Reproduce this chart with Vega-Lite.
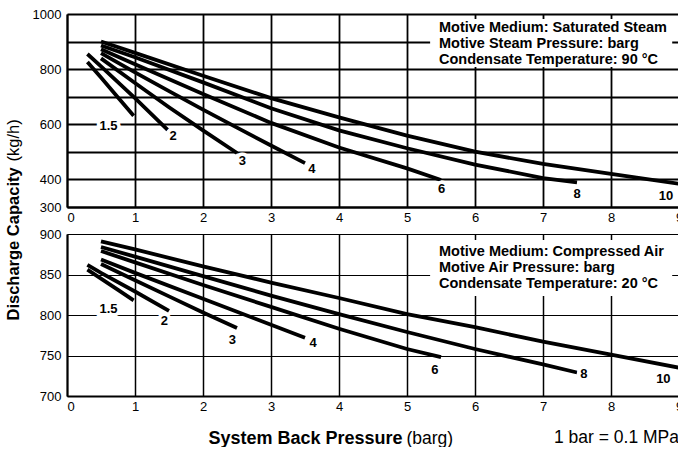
{
  "$schema": "https://vega.github.io/schema/vega-lite/v6.json",
  "background": "white",
  "padding": {"left": 5, "top": 8, "right": 0, "bottom": 0},
  "bounds": "flush",
  "spacing": 27,
  "config": {
    "font": "Liberation Sans",
    "view": {"stroke": null},
    "axis": {
      "labelFont": "Liberation Sans",
      "labelFontSize": 13,
      "labelColor": "black",
      "domainColor": "black",
      "domainWidth": 2,
      "gridColor": "black",
      "gridOpacity": 1,
      "ticks": false,
      "tickSize": 0,
      "titleColor": "black",
      "titleFont": "Liberation Sans"
    }
  },
  "title": {
    "text": "1 bar = 0.1 MPa",
    "orient": "bottom",
    "anchor": "end",
    "frame": "group",
    "font": "Liberation Sans",
    "fontSize": 17.5,
    "fontWeight": "normal",
    "color": "black",
    "baseline": "alphabetic",
    "offset": 0,
    "dy": -4
  },
  "datasets": {
    "curves": [
      {"p": "steam", "c": "1.5", "x": 0.3, "y": 826},
      {"p": "steam", "c": "1.5", "x": 0.5, "y": 770},
      {"p": "steam", "c": "1.5", "x": 0.75, "y": 697},
      {"p": "steam", "c": "1.5", "x": 0.98, "y": 631},
      {"p": "steam", "c": "2", "x": 0.3, "y": 855},
      {"p": "steam", "c": "2", "x": 0.5, "y": 810},
      {"p": "steam", "c": "2", "x": 1.0, "y": 695},
      {"p": "steam", "c": "2", "x": 1.48, "y": 580},
      {"p": "steam", "c": "3", "x": 0.5, "y": 839},
      {"p": "steam", "c": "3", "x": 1.0, "y": 750},
      {"p": "steam", "c": "3", "x": 1.5, "y": 662},
      {"p": "steam", "c": "3", "x": 2.0, "y": 578},
      {"p": "steam", "c": "3", "x": 2.5, "y": 496},
      {"p": "steam", "c": "4", "x": 0.5, "y": 858},
      {"p": "steam", "c": "4", "x": 1.0, "y": 788},
      {"p": "steam", "c": "4", "x": 1.5, "y": 720},
      {"p": "steam", "c": "4", "x": 2.0, "y": 653},
      {"p": "steam", "c": "4", "x": 2.5, "y": 588},
      {"p": "steam", "c": "4", "x": 3.0, "y": 523},
      {"p": "steam", "c": "4", "x": 3.5, "y": 459},
      {"p": "steam", "c": "6", "x": 0.5, "y": 872},
      {"p": "steam", "c": "6", "x": 1, "y": 818},
      {"p": "steam", "c": "6", "x": 2, "y": 710},
      {"p": "steam", "c": "6", "x": 3, "y": 605},
      {"p": "steam", "c": "6", "x": 4, "y": 516},
      {"p": "steam", "c": "6", "x": 5, "y": 440},
      {"p": "steam", "c": "6", "x": 5.5, "y": 398},
      {"p": "steam", "c": "8", "x": 0.5, "y": 886},
      {"p": "steam", "c": "8", "x": 1, "y": 843},
      {"p": "steam", "c": "8", "x": 2, "y": 752},
      {"p": "steam", "c": "8", "x": 3, "y": 658},
      {"p": "steam", "c": "8", "x": 4, "y": 578},
      {"p": "steam", "c": "8", "x": 5, "y": 513},
      {"p": "steam", "c": "8", "x": 6, "y": 454},
      {"p": "steam", "c": "8", "x": 7, "y": 405},
      {"p": "steam", "c": "8", "x": 7.5, "y": 389},
      {"p": "steam", "c": "10", "x": 0.5, "y": 900},
      {"p": "steam", "c": "10", "x": 1, "y": 859},
      {"p": "steam", "c": "10", "x": 2, "y": 776},
      {"p": "steam", "c": "10", "x": 3, "y": 695},
      {"p": "steam", "c": "10", "x": 4, "y": 625},
      {"p": "steam", "c": "10", "x": 5, "y": 559},
      {"p": "steam", "c": "10", "x": 6, "y": 501},
      {"p": "steam", "c": "10", "x": 7, "y": 456},
      {"p": "steam", "c": "10", "x": 8, "y": 420},
      {"p": "steam", "c": "10", "x": 9, "y": 384},
      {"p": "air", "c": "1.5", "x": 0.3, "y": 856},
      {"p": "air", "c": "1.5", "x": 0.5, "y": 845},
      {"p": "air", "c": "1.5", "x": 0.75, "y": 831},
      {"p": "air", "c": "1.5", "x": 0.98, "y": 818},
      {"p": "air", "c": "2", "x": 0.3, "y": 862},
      {"p": "air", "c": "2", "x": 0.5, "y": 852},
      {"p": "air", "c": "2", "x": 1.0, "y": 829},
      {"p": "air", "c": "2", "x": 1.5, "y": 805},
      {"p": "air", "c": "3", "x": 0.5, "y": 863},
      {"p": "air", "c": "3", "x": 1.0, "y": 843},
      {"p": "air", "c": "3", "x": 1.5, "y": 823},
      {"p": "air", "c": "3", "x": 2.0, "y": 803},
      {"p": "air", "c": "3", "x": 2.5, "y": 784},
      {"p": "air", "c": "4", "x": 0.5, "y": 868.5},
      {"p": "air", "c": "4", "x": 1, "y": 852},
      {"p": "air", "c": "4", "x": 2, "y": 820},
      {"p": "air", "c": "4", "x": 3, "y": 788},
      {"p": "air", "c": "4", "x": 3.5, "y": 772},
      {"p": "air", "c": "6", "x": 0.5, "y": 879},
      {"p": "air", "c": "6", "x": 1, "y": 865},
      {"p": "air", "c": "6", "x": 2, "y": 837},
      {"p": "air", "c": "6", "x": 3, "y": 810},
      {"p": "air", "c": "6", "x": 4, "y": 783},
      {"p": "air", "c": "6", "x": 5, "y": 758},
      {"p": "air", "c": "6", "x": 5.5, "y": 748},
      {"p": "air", "c": "8", "x": 0.5, "y": 884},
      {"p": "air", "c": "8", "x": 1, "y": 872},
      {"p": "air", "c": "8", "x": 2, "y": 848},
      {"p": "air", "c": "8", "x": 3, "y": 824},
      {"p": "air", "c": "8", "x": 4, "y": 801},
      {"p": "air", "c": "8", "x": 5, "y": 779},
      {"p": "air", "c": "8", "x": 6, "y": 758},
      {"p": "air", "c": "8", "x": 7, "y": 739},
      {"p": "air", "c": "8", "x": 7.5, "y": 729},
      {"p": "air", "c": "10", "x": 0.5, "y": 891},
      {"p": "air", "c": "10", "x": 1, "y": 881},
      {"p": "air", "c": "10", "x": 2, "y": 860},
      {"p": "air", "c": "10", "x": 3, "y": 840},
      {"p": "air", "c": "10", "x": 4, "y": 821},
      {"p": "air", "c": "10", "x": 5, "y": 801},
      {"p": "air", "c": "10", "x": 6, "y": 785},
      {"p": "air", "c": "10", "x": 7, "y": 767},
      {"p": "air", "c": "10", "x": 8, "y": 751},
      {"p": "air", "c": "10", "x": 9, "y": 735}
    ],
    "labels": [
      {"p": "steam", "t": "1.5", "x": 0.61, "y": 594},
      {"p": "steam", "t": "2", "x": 1.56, "y": 558},
      {"p": "steam", "t": "3", "x": 2.58, "y": 467},
      {"p": "steam", "t": "4", "x": 3.6, "y": 437},
      {"p": "steam", "t": "6", "x": 5.51, "y": 367},
      {"p": "steam", "t": "8", "x": 7.5, "y": 347},
      {"p": "steam", "t": "10", "x": 8.81, "y": 341},
      {"p": "air", "t": "1.5", "x": 0.61, "y": 808},
      {"p": "air", "t": "2", "x": 1.43, "y": 793},
      {"p": "air", "t": "3", "x": 2.43, "y": 769.5},
      {"p": "air", "t": "4", "x": 3.62, "y": 766},
      {"p": "air", "t": "6", "x": 5.41, "y": 732},
      {"p": "air", "t": "8", "x": 7.6, "y": 727},
      {"p": "air", "t": "10", "x": 8.77, "y": 721.6}
    ],
    "notes": [
      {"p": "steam", "t": "Motive Medium: Saturated Steam", "x": 5.47, "y": 948},
      {"p": "steam", "t": "Motive Steam Pressure: barg", "x": 5.47, "y": 891},
      {"p": "steam", "t": "Condensate Temperature: 90 °C", "x": 5.47, "y": 833},
      {"p": "air", "t": "Motive Medium: Compressed Air", "x": 5.47, "y": 877.4},
      {"p": "air", "t": "Motive Air Pressure: barg", "x": 5.47, "y": 857.6},
      {"p": "air", "t": "Condensate Temperature: 20 °C", "x": 5.47, "y": 838.3}
    ],
    "boxes": [
      {"p": "steam", "x": 5.34, "x2": 8.9, "y": 808, "y2": 982},
      {"p": "air", "x": 5.34, "x2": 8.9, "y": 823.5, "y2": 892.6}
    ]
  },
  "vconcat": [
    {
      "width": 612,
      "height": 193,
      "encoding": {
        "x": {
          "field": "x",
          "type": "quantitative",
          "scale": {"domain": [0, 9], "nice": false, "zero": false},
          "axis": {
            "values": [0, 1, 2, 3, 4, 5, 6, 7, 8, 9],
            "grid": true,
            "gridWidth": 1.8,
            "labelFlush": false,
            "labelAlign": {"condition": {"test": "datum.value == 0", "value": "left"}, "value": "center"},
            "labelPadding": 4,
            "title": "(barg)",
            "titleFontSize": 17.5,
            "titleFontWeight": "normal",
            "titleAlign": "left",
            "titleBaseline": "alphabetic",
            "titleX": 339,
            "titleY": 236
          }
        },
        "y": {
          "field": "y",
          "type": "quantitative",
          "scale": {"domain": [300, 1000], "nice": false, "zero": false},
          "axis": {
            "values": [300, 400, 500, 600, 700, 800, 900, 1000],
            "format": "d",
            "labelExpr": "(datum.value == 500 || datum.value == 700 || datum.value == 900) ? '' : datum.label",
            "grid": true,
            "gridWidth": 1.8,
            "labelPadding": 6,
            "title": "Discharge Capacity",
            "titleFontSize": 16.5,
            "titleFontWeight": "bold",
            "titleAngle": 270,
            "titleAlign": "left",
            "titleBaseline": "alphabetic",
            "titleX": -48.3,
            "titleY": 306
          }
        }
      },
      "layer": [
        {
          "data": {"name": "boxes"},
          "transform": [{"filter": "datum.p == 'steam'"}],
          "mark": {"type": "rect", "color": "white"},
          "encoding": {"x2": {"field": "x2"}, "y2": {"field": "y2"}}
        },
        {
          "data": {"name": "curves"},
          "transform": [{"filter": "datum.p == 'steam'"}],
          "mark": {"type": "line", "color": "black", "strokeWidth": 3.8, "strokeCap": "butt"},
          "encoding": {"detail": {"field": "c"}}
        },
        {
          "data": {"name": "notes"},
          "transform": [{"filter": "datum.p == 'steam'"}],
          "mark": {"type": "text", "align": "left", "baseline": "middle", "font": "Liberation Sans", "fontWeight": "bold", "fontSize": 14.5, "color": "black"},
          "encoding": {"text": {"field": "t"}}
        },
        {
          "data": {"name": "labels"},
          "transform": [{"filter": "datum.p == 'steam'"}],
          "mark": {"type": "text", "align": "center", "baseline": "middle", "font": "Liberation Sans", "fontWeight": "bold", "fontSize": 13, "color": "white", "stroke": "white", "strokeWidth": 7},
          "encoding": {"text": {"field": "t"}}
        },
        {
          "data": {"name": "labels"},
          "transform": [{"filter": "datum.p == 'steam'"}],
          "mark": {"type": "text", "align": "center", "baseline": "middle", "font": "Liberation Sans", "fontWeight": "bold", "fontSize": 13, "color": "black"},
          "encoding": {"text": {"field": "t"}}
        }
      ]
    },
    {
      "width": 612,
      "height": 162,
      "encoding": {
        "x": {
          "field": "x",
          "type": "quantitative",
          "scale": {"domain": [0, 9], "nice": false, "zero": false},
          "axis": {
            "values": [0, 1, 2, 3, 4, 5, 6, 7, 8, 9],
            "grid": true,
            "gridWidth": 1.5,
            "labelFlush": false,
            "labelAlign": {"condition": {"test": "datum.value == 0", "value": "left"}, "value": "center"},
            "labelPadding": 4,
            "title": "System Back Pressure",
            "titleFontSize": 18,
            "titleFontWeight": "bold",
            "titleAlign": "left",
            "titleBaseline": "alphabetic",
            "titleX": 141,
            "titleY": 47
          }
        },
        "y": {
          "field": "y",
          "type": "quantitative",
          "scale": {"domain": [700, 900], "nice": false, "zero": false},
          "axis": {
            "values": [700, 750, 800, 850, 900],
            "format": "d",
            "grid": true,
            "gridWidth": 1.2,
            "labelPadding": 6,
            "title": "(kg/h)",
            "titleFontSize": 16.5,
            "titleFontWeight": "normal",
            "titleAngle": 270,
            "titleAlign": "left",
            "titleBaseline": "alphabetic",
            "titleX": -48.3,
            "titleY": -73
          }
        }
      },
      "layer": [
        {
          "data": {"name": "boxes"},
          "transform": [{"filter": "datum.p == 'air'"}],
          "mark": {"type": "rect", "color": "white"},
          "encoding": {"x2": {"field": "x2"}, "y2": {"field": "y2"}}
        },
        {
          "data": {"name": "curves"},
          "transform": [{"filter": "datum.p == 'air'"}],
          "mark": {"type": "line", "color": "black", "strokeWidth": 3.8, "strokeCap": "butt"},
          "encoding": {"detail": {"field": "c"}}
        },
        {
          "data": {"name": "notes"},
          "transform": [{"filter": "datum.p == 'air'"}],
          "mark": {"type": "text", "align": "left", "baseline": "middle", "font": "Liberation Sans", "fontWeight": "bold", "fontSize": 14.5, "color": "black"},
          "encoding": {"text": {"field": "t"}}
        },
        {
          "data": {"name": "labels"},
          "transform": [{"filter": "datum.p == 'air'"}],
          "mark": {"type": "text", "align": "center", "baseline": "middle", "font": "Liberation Sans", "fontWeight": "bold", "fontSize": 13, "color": "white", "stroke": "white", "strokeWidth": 7},
          "encoding": {"text": {"field": "t"}}
        },
        {
          "data": {"name": "labels"},
          "transform": [{"filter": "datum.p == 'air'"}],
          "mark": {"type": "text", "align": "center", "baseline": "middle", "font": "Liberation Sans", "fontWeight": "bold", "fontSize": 13, "color": "black"},
          "encoding": {"text": {"field": "t"}}
        }
      ]
    }
  ]
}
